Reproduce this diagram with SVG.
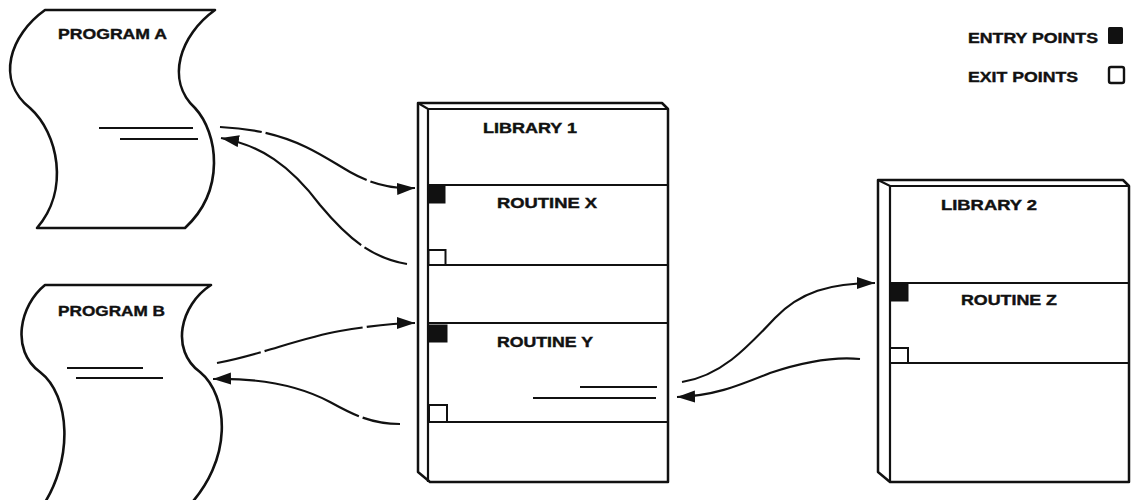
<svg xmlns="http://www.w3.org/2000/svg" width="1132" height="500" viewBox="0 0 1132 500">
<defs>
<marker id="ah" markerUnits="userSpaceOnUse" markerWidth="20" markerHeight="14" refX="18" refY="6" orient="auto">
<path d="M0,0 L18,6 L0,12 Z" fill="#111"/>
</marker>
<style>
.shape{fill:#fff;stroke:#111;stroke-width:2.6;stroke-linejoin:round}
.ln{fill:none;stroke:#111;stroke-width:2.2}
.lib{fill:#fff;stroke:#111;stroke-width:2.5;stroke-linejoin:round}
.entry{fill:#111;stroke:#111;stroke-width:1}
.exit{fill:#fff;stroke:#111;stroke-width:2}
.conn{fill:none;stroke:#111;stroke-width:2.2;marker-end:url(#ah)}
text{font-family:"Liberation Sans",Arial,sans-serif;font-weight:bold;fill:#111;stroke:#111;stroke-width:0.4}
.t14{font-size:14px}
.t15{font-size:15px}
</style>
</defs>
<rect width="1132" height="500" fill="#fff"/>

<g id="programA">
<path class="shape" d="M45,10 L215,10 C180,35 165,80 195,108 C218,133 226,190 185,228 L37,228 C70,190 58,133 30,108 C-5,80 10,35 45,10 Z"/>
<text class="t15" x="58" y="39" textLength="109" lengthAdjust="spacingAndGlyphs">PROGRAM A</text>
<line class="ln" x1="99" y1="128" x2="193" y2="128"/>
<line class="ln" x1="120" y1="139" x2="198" y2="139"/>
</g>

<g id="programB">
<path class="shape" d="M45,285 L211,285 C180,305 170,350 200,372 C228,395 235,460 185,510 L40,510 C75,460 70,395 40,372 C10,350 20,305 45,285 Z"/>
<text class="t15" x="58" y="316" textLength="107" lengthAdjust="spacingAndGlyphs">PROGRAM B</text>
<line class="ln" x1="67" y1="368" x2="143" y2="368"/>
<line class="ln" x1="76" y1="378" x2="163" y2="378"/>
</g>

<g id="library1">
<path class="lib" d="M418,103 L662,103 L668,109 L668,482 L430,482 L418,472 Z"/>
<path class="ln" d="M418,103 L428,109 L668,109 M428,109 L428,482"/>
<line class="ln" x1="428" y1="185" x2="668" y2="185"/>
<line class="ln" x1="428" y1="265" x2="668" y2="265"/>
<line class="ln" x1="428" y1="323" x2="668" y2="323"/>
<line class="ln" x1="428" y1="422" x2="668" y2="422"/>
<text class="t14" x="483" y="133" textLength="94" lengthAdjust="spacingAndGlyphs">LIBRARY 1</text>
</g>

<g id="routineX">
<rect class="entry" x="428" y="186" width="17" height="17"/>
<rect class="exit" x="428.5" y="250" width="17" height="15"/>
<text class="t14" x="497" y="208" textLength="100" lengthAdjust="spacingAndGlyphs">ROUTINE X</text>
</g>

<g id="routineY">
<rect class="entry" x="429" y="325" width="18" height="17"/>
<rect class="exit" x="429" y="405" width="18" height="17"/>
<text class="t14" x="497" y="347" textLength="96" lengthAdjust="spacingAndGlyphs">ROUTINE Y</text>
<line class="ln" x1="580" y1="387" x2="657" y2="387"/>
<line class="ln" x1="533" y1="398" x2="656" y2="398"/>
</g>

<g id="library2">
<path class="lib" d="M878,180 L1123,180 L1129,186 L1129,482 L890,482 L878,472 Z"/>
<path class="ln" d="M878,180 L890,186 L1129,186 M890,186 L890,482"/>
<line class="ln" x1="890" y1="283" x2="1129" y2="283"/>
<line class="ln" x1="890" y1="363" x2="1129" y2="363"/>
<text class="t14" x="941" y="210" textLength="96" lengthAdjust="spacingAndGlyphs">LIBRARY 2</text>
</g>

<g id="routineZ">
<rect class="entry" x="890" y="284" width="18" height="17"/>
<rect class="exit" x="890" y="348" width="18" height="15"/>
<text class="t14" x="961" y="305" textLength="96" lengthAdjust="spacingAndGlyphs">ROUTINE Z</text>
</g>

<g id="legend">
<text class="t15" x="968" y="43" textLength="130" lengthAdjust="spacingAndGlyphs">ENTRY POINTS</text>
<rect x="1108" y="27" width="15" height="17" rx="1.5" fill="#111"/>
<text class="t15" x="968" y="82" textLength="110" lengthAdjust="spacingAndGlyphs">EXIT POINTS</text>
<rect x="1109" y="67" width="15" height="16" rx="2" fill="#fff" stroke="#111" stroke-width="2.4"/>
</g>

<g id="connectors">
<path class="conn" stroke-dasharray="42 4 112 4 300" d="M220,127 C290,130 320,155 350,172 C375,186 395,189 415,188"/>
<path class="conn" stroke-dasharray="46 4 400" d="M407,264 C370,258 345,235 320,205 C290,165 260,145 221,138"/>
<path class="conn" stroke-dasharray="45 4 101 4 300" d="M217,363 C260,355 300,338 340,331 C370,326 395,323 415,323"/>
<path class="conn" stroke-dasharray="38 4 400" d="M400,424 C370,424 350,413 330,402 C300,386 260,378 213,379"/>
<path class="conn" d="M682,382 C720,376 745,350 775,318 C800,292 830,283 875,283"/>
<path class="conn" d="M860,359 C830,356 800,363 770,373 C740,385 715,396 677,397"/>
</g>
</svg>
